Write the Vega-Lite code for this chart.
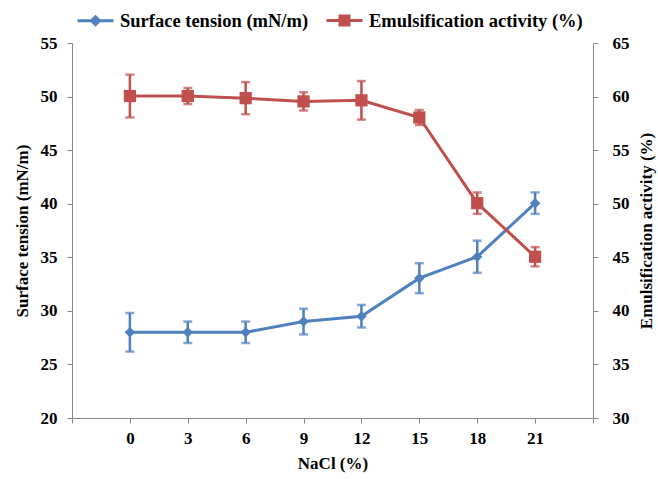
{
  "$schema": "https://vega.github.io/schema/vega-lite/v6.json",
  "width": 521,
  "height": 375,
  "autosize": "none",
  "padding": {"left": 72, "top": 43, "right": 65, "bottom": 61},
  "background": "white",
  "config": {
    "view": {"stroke": null},
    "font": "Liberation Serif",
    "axis": {
      "domainColor": "#868686",
      "tickColor": "#868686",
      "tickSize": 5,
      "grid": false,
      "labelFont": "Liberation Serif",
      "labelFontWeight": "bold",
      "labelFontSize": 17,
      "labelColor": "#000000",
      "titleFont": "Liberation Serif",
      "titleFontWeight": "bold",
      "titleFontSize": 17,
      "titleColor": "#000000"
    },
    "legend": {
      "labelFont": "Liberation Serif",
      "labelFontWeight": "bold",
      "labelFontSize": 18.5,
      "labelColor": "#000000",
      "labelLimit": 0
    }
  },
  "datasets": {
    "st": [
      {"nacl": 0, "value": 28.0, "err": 1.8},
      {"nacl": 3, "value": 28.0, "err": 1.0},
      {"nacl": 6, "value": 28.0, "err": 1.0},
      {"nacl": 9, "value": 29.0, "err": 1.2},
      {"nacl": 12, "value": 29.5, "err": 1.05},
      {"nacl": 15, "value": 33.05, "err": 1.4},
      {"nacl": 18, "value": 35.05, "err": 1.5},
      {"nacl": 21, "value": 40.05, "err": 1.0}
    ],
    "ea": [
      {"nacl": 0, "value": 60.05, "err": 2.0},
      {"nacl": 3, "value": 60.05, "err": 0.75},
      {"nacl": 6, "value": 59.85, "err": 1.5},
      {"nacl": 9, "value": 59.55, "err": 0.85},
      {"nacl": 12, "value": 59.65, "err": 1.8},
      {"nacl": 15, "value": 58.05, "err": 0.7},
      {"nacl": 18, "value": 50.05, "err": 1.0},
      {"nacl": 21, "value": 45.05, "err": 0.9}
    ],
    "series": [
      {"series": "Surface tension (mN/m)"},
      {"series": "Emulsification activity (%)"}
    ]
  },
  "encoding": {
    "x": {
      "field": "nacl",
      "type": "quantitative",
      "scale": {"domain": [-3, 24], "nice": false, "zero": false},
      "axis": {
        "values": [-3, 0, 3, 6, 9, 12, 15, 18, 21, 24],
        "labelExpr": "datum.value < 0 || datum.value > 21 ? '' : datum.label",
        "title": "NaCl (%)",
        "labelPadding": 7,
        "titlePadding": 9,
        "labelFlush": false,
        "labelOverlap": false
      }
    }
  },
  "layer": [
    {
      "data": {"name": "st"},
      "encoding": {
        "y": {
          "field": "value",
          "type": "quantitative",
          "scale": {"domain": [20, 55], "nice": false, "zero": false},
          "axis": {
            "orient": "left",
            "values": [20, 25, 30, 35, 40, 45, 50, 55],
            "title": "Surface tension (mN/m)",
            "labelPadding": 10,
            "titlePadding": 9
          }
        }
      },
      "layer": [
        {
          "mark": {
            "type": "errorbar",
            "color": "#4F81BD",
            "ticks": {"size": 9, "thickness": 2.5},
            "rule": {"strokeWidth": 2.5}
          },
          "encoding": {"yError": {"field": "err"}}
        },
        {
          "mark": {"type": "line", "color": "#4F81BD", "strokeWidth": 3}
        },
        {
          "mark": {"type": "point", "shape": "diamond", "filled": true, "size": 110, "color": "#4F81BD", "opacity": 1}
        }
      ]
    },
    {
      "data": {"name": "ea"},
      "encoding": {
        "y": {
          "field": "value",
          "type": "quantitative",
          "scale": {"domain": [30, 65], "nice": false, "zero": false},
          "axis": {
            "orient": "right",
            "values": [30, 35, 40, 45, 50, 55, 60, 65],
            "title": "Emulsification activity (%)",
            "titleAngle": 270,
            "titleBaseline": "top",
            "labelPadding": 14,
            "titlePadding": 9
          }
        }
      },
      "layer": [
        {
          "mark": {
            "type": "errorbar",
            "color": "#C0504D",
            "ticks": {"size": 9, "thickness": 2.5},
            "rule": {"strokeWidth": 2.5}
          },
          "encoding": {"yError": {"field": "err"}}
        },
        {
          "mark": {"type": "line", "color": "#C0504D", "strokeWidth": 3}
        },
        {
          "mark": {"type": "point", "shape": "square", "filled": true, "size": 150, "color": "#C0504D", "opacity": 1}
        },
        {
          "data": {"name": "series"},
          "transform": [{"filter": "false"}],
          "mark": {"type": "point", "filled": true, "strokeWidth": 3, "opacity": 1},
          "encoding": {
            "x": {"datum": 0, "type": "quantitative"},
            "y": {"datum": 40, "type": "quantitative"},
            "color": {
              "field": "series",
              "type": "nominal",
              "scale": {"domain": ["Surface tension (mN/m)", "Emulsification activity (%)"], "range": ["#4F81BD", "#C0504D"]},
              "legend": {
                "orient": "none",
                "legendX": 4,
                "legendY": -42,
                "direction": "horizontal",
                "title": null,
                "symbolSize": 1296,
                "symbolStrokeWidth": 3,
                "labelOffset": 5,
                "columnPadding": 11
              }
            },
            "stroke": {
              "field": "series",
              "type": "nominal",
              "scale": {"domain": ["Surface tension (mN/m)", "Emulsification activity (%)"], "range": ["#4F81BD", "#C0504D"]},
              "legend": {
                "orient": "none",
                "legendX": 4,
                "legendY": -42,
                "direction": "horizontal",
                "title": null,
                "symbolSize": 1296,
                "symbolStrokeWidth": 3,
                "labelOffset": 5,
                "columnPadding": 11
              }
            },
            "shape": {
              "field": "series",
              "type": "nominal",
              "scale": {"domain": ["Surface tension (mN/m)", "Emulsification activity (%)"], "range": ["M-1,0H1M0,-0.22L0.22,0L0,0.22L-0.22,0Z", "M-1,0H1M-0.25,-0.25H0.25V0.25H-0.25Z"]},
              "legend": {
                "orient": "none",
                "legendX": 4,
                "legendY": -42,
                "direction": "horizontal",
                "title": null,
                "symbolSize": 1296,
                "symbolStrokeWidth": 3,
                "labelOffset": 5,
                "columnPadding": 11
              }
            }
          }
        }
      ]
    }
  ],
  "resolve": {"scale": {"y": "independent"}}
}
